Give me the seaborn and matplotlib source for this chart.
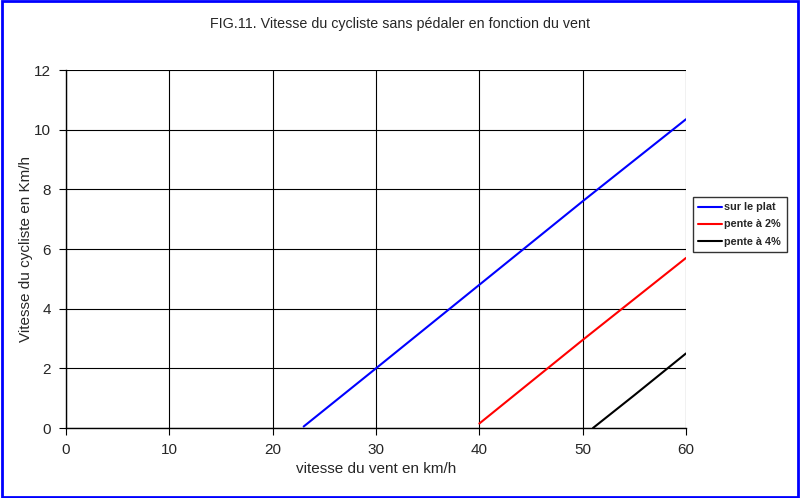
import matplotlib
matplotlib.use("Agg")
import matplotlib.pyplot as plt
import seaborn as sns
import pandas as pd
from matplotlib.patches import Rectangle

# Data
plat_x = [23, 30, 40, 50, 60]
plat_y = [0.05, 2.0, 4.8, 7.6, 10.35]
p2_x = [40, 50, 60]
p2_y = [0.15, 2.95, 5.7]
p4_x = [51, 55, 60]
p4_y = [0.0, 1.1, 2.5]
series_names = ["sur le plat", "pente à 2%", "pente à 4%"]
series_colors = ["#0000ff", "#ff0000", "#000000"]
x_ticks = [0, 10, 20, 30, 40, 50, 60]
y_ticks = [0, 2, 4, 6, 8, 10, 12]

df = pd.concat([
    pd.DataFrame({"x": plat_x, "y": plat_y, "serie": series_names[0]}),
    pd.DataFrame({"x": p2_x, "y": p2_y, "serie": series_names[1]}),
    pd.DataFrame({"x": p4_x, "y": p4_y, "serie": series_names[2]}),
], ignore_index=True)

sns.set_style("white")
plt.rcParams["font.family"] = ["Liberation Sans", "DejaVu Sans"]

fig = plt.figure(figsize=(8, 4.98), dpi=100)
fig.patch.set_facecolor("white")
ax = fig.add_axes([66/800, 70/498, 620/800, 358/498])

sns.lineplot(data=df, x="x", y="y", hue="serie", palette=dict(zip(series_names, series_colors)),
             hue_order=series_names, linewidth=1.5, ax=ax, legend=True, sort=False)

ax.set_xlim(0, 60)
ax.set_ylim(0, 12)
ax.set_xticks(x_ticks)
ax.set_yticks(y_ticks)
ax.set_xticklabels([str(v) for v in x_ticks], fontsize=11)
ax.set_yticklabels([str(v) for v in y_ticks], fontsize=11)
ax.grid(True, color="black", linewidth=0.8)
ax.set_axisbelow(True)
for s in ["top", "right"]:
    ax.spines[s].set_visible(False)
for s in ["left", "bottom"]:
    ax.spines[s].set_color("black")
    ax.spines[s].set_linewidth(1.0)
ax.tick_params(axis="both", direction="out", length=5, width=0.8, color="black",
               bottom=True, left=True, pad=6)

ax.set_xlabel("vitesse du vent en km/h", fontsize=11)
ax.set_ylabel("Vitesse du cycliste en Km/h", fontsize=11)
ax.xaxis.set_label_coords(0.5, (428 - 469) / 358)
ax.xaxis.label.set_va("center")
ax.yaxis.set_label_coords((26 - 66) / 620, 0.5)
ax.yaxis.label.set_va("center")
fig.text(0.5, 1 - 24/498, "FIG.11. Vitesse du cycliste sans pédaler en fonction du vent",
         ha="center", va="center", fontsize=10.3)

leg = ax.legend(loc="upper left", bbox_to_anchor=(693/800, 1 - 197/498),
                bbox_transform=fig.transFigure, frameon=True, fancybox=False,
                prop={"weight": "bold", "size": 7.8}, handlelength=2.2,
                handletextpad=0.2, borderpad=0.5, labelspacing=0.65, borderaxespad=0)
leg.get_frame().set_edgecolor("black")
leg.get_frame().set_linewidth(1.0)
for l in leg.get_lines():
    l.set_linewidth(1.5)

fig.patches.append(Rectangle((0.002, 0.003), 0.996, 0.994, transform=fig.transFigure,
                             fill=False, edgecolor="#0000ff", linewidth=2))

fig.savefig("out.png", dpi=100)
